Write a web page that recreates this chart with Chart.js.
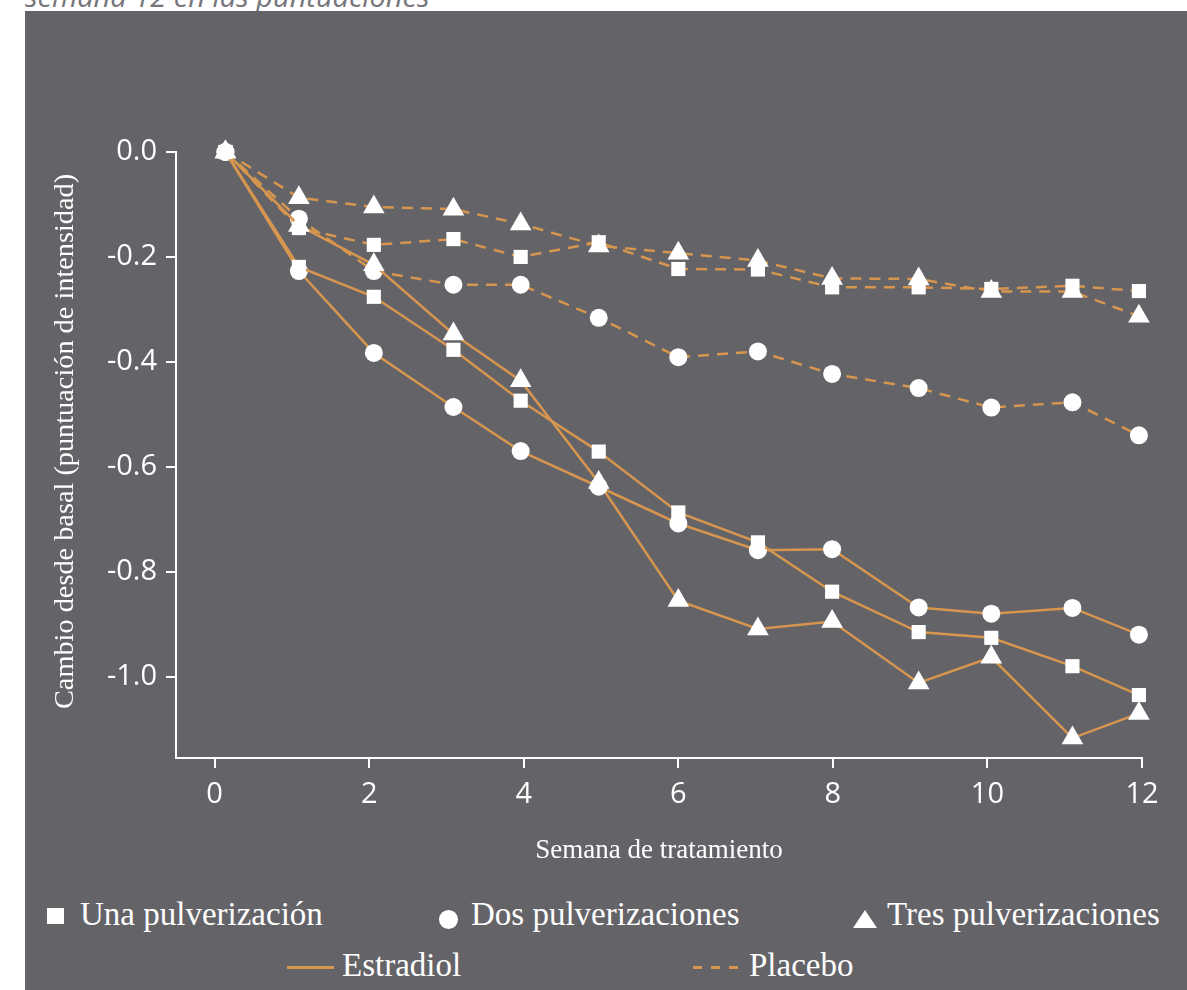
<!DOCTYPE html>
<html>
<head>
<meta charset="utf-8">
<title>Cambio desde basal</title>
<script src="https://cdn.jsdelivr.net/npm/chart.js@4.4.1/dist/chart.umd.min.js"></script>
<style>
    html, body { margin: 0; padding: 0; background: #ffffff; }
    body { width: 1187px; height: 990px; position: relative; overflow: hidden; font-family: "Liberation Serif", serif; }
    #caption { position: absolute; left: 25px; top: -19px; font: italic 29px/29px "Open Sans", sans-serif; color: #77767b; white-space: nowrap; }
    #panel { position: absolute; left: 25px; top: 11px; width: 1162px; height: 979px; background: #646368; }
    #chartBox { position: absolute; left: 25px; top: 11px; width: 1162px; height: 870px; }
    #ytitle { position: absolute; left: 50px; top: 709px; font-size: 28.3px; line-height: 28px; color: #ffffff; white-space: nowrap; transform-origin: 0 0; transform: rotate(-90deg); }
    .leg { position: absolute; color: #ffffff; font-size: 33px; line-height: 33px; white-space: nowrap; }
    .mk { position: absolute; }
    .sq { width: 17px; height: 16px; background: #ffffff; }
    .ci { width: 19px; height: 19px; border-radius: 50%; background: #ffffff; }
    .tr { width: 0; height: 0; border-left: 12.5px solid transparent; border-right: 12.5px solid transparent; border-bottom: 18px solid #ffffff; }
    .ln { height: 2.5px; background: #d6964f; }
    .dl { height: 3px; background: repeating-linear-gradient(90deg, #d6964f 0 9px, transparent 9px 18px); }
</style>
</head>
<body>
<div id="caption">semana 12 en las puntuaciones</div>
<div id="panel"></div>
<div id="chartBox"><canvas id="resultChart"></canvas></div>
<div id="ytitle">Cambio desde basal (puntuación de intensidad)</div>

<div class="mk sq" style="left:47px;top:908px"></div>
<span class="leg" style="left:80px;top:898px">Una pulverización</span>
<div class="mk ci" style="left:439px;top:910px"></div>
<span class="leg" style="left:471px;top:898px">Dos pulverizaciones</span>
<div class="mk tr" style="left:853px;top:910px"></div>
<span class="leg" style="left:887px;top:898px">Tres pulverizaciones</span>

<div class="mk ln" style="left:287px;top:966px;width:47px"></div>
<span class="leg" style="left:342px;top:949px">Estradiol</span>
<div class="mk dl" style="left:693px;top:966px;width:47px"></div>
<span class="leg" style="left:749px;top:949px">Placebo</span>

<script>
// semanas (posicion de cada punto en el eje x)
var weeks = [0.14, 1.09, 2.06, 3.09, 3.96, 4.97, 6.0, 7.03, 7.99, 9.11, 10.05, 11.1, 11.96];
var xTicks = [0, 2, 4, 6, 8, 10, 12];
var yTicks = [0, -0.2, -0.4, -0.6, -0.8, -1.0];

var estradiolUna  = [0, -0.219, -0.276, -0.377, -0.474, -0.571, -0.687, -0.744, -0.838, -0.915, -0.926, -0.980, -1.035];
var estradiolDos  = [0, -0.227, -0.383, -0.486, -0.570, -0.638, -0.708, -0.759, -0.757, -0.868, -0.880, -0.869, -0.920];
var estradiolTres = [0, -0.140, -0.215, -0.347, -0.436, -0.630, -0.855, -0.909, -0.895, -1.012, -0.963, -1.117, -1.070];
var placeboUna    = [0, -0.145, -0.177, -0.166, -0.200, -0.172, -0.223, -0.224, -0.258, -0.258, -0.261, -0.255, -0.265];
var placeboDos    = [0, -0.127, -0.227, -0.253, -0.253, -0.316, -0.391, -0.380, -0.423, -0.450, -0.487, -0.477, -0.540];
var placeboTres   = [0, -0.087, -0.105, -0.109, -0.137, -0.179, -0.193, -0.207, -0.241, -0.242, -0.266, -0.266, -0.313];

var lineColor = '#d6964f';
var tickFont = {family: "'Open Sans', sans-serif", size: 29};

function serie(label, values, style, radius, dashed) {
    return {
        label: label,
        data: weeks.map(function (w, i) { return {x: w, y: values[i]}; }),
        borderColor: lineColor,
        borderWidth: 2.5,
        borderDash: dashed ? [11, 8] : [],
        pointStyle: style,
        pointRadius: radius,
        pointHoverRadius: radius,
        pointBackgroundColor: '#ffffff',
        pointBorderColor: '#ffffff',
        pointBorderWidth: 0,
        fill: false,
        tension: 0,
        clip: false
    };
}

var ctx = document.getElementById('resultChart');
var resultChart = new Chart(ctx, {
    type: 'line',
    data: {
        datasets: [
            serie('Una pulverización - Estradiol', estradiolUna, 'rect', 10, false),
            serie('Dos pulverizaciones - Estradiol', estradiolDos, 'circle', 9, false),
            serie('Tres pulverizaciones - Estradiol', estradiolTres, 'triangle', 12.5, false),
            serie('Una pulverización - Placebo', placeboUna, 'rect', 10, true),
            serie('Dos pulverizaciones - Placebo', placeboDos, 'circle', 9, true),
            serie('Tres pulverizaciones - Placebo', placeboTres, 'triangle', 12.5, true)
        ]
    },
    options: {
        responsive: true,
        maintainAspectRatio: false,
        devicePixelRatio: 1,
        animation: false,
        layout: {padding: {top: 141, right: 45, bottom: 0, left: 0}},
        plugins: {
            legend: {display: false},
            tooltip: {enabled: false}
        },
        scales: {
            x: {
                type: 'linear',
                min: -0.5,
                max: 12,
                afterBuildTicks: function (axis) {
                    axis.ticks = xTicks.map(function (v) { return {value: v}; });
                },
                afterFit: function (axis) { axis.height = 123; },
                ticks: {
                    color: '#ffffff',
                    font: tickFont,
                    padding: 9,
                    maxRotation: 0,
                    autoSkip: false,
                    callback: function (v) { return String(v); }
                },
                grid: {drawOnChartArea: false, drawTicks: true, tickLength: 10, color: '#ffffff', lineWidth: 2},
                border: {display: true, color: '#ffffff', width: 2},
                title: {
                    display: true,
                    text: 'Semana de tratamiento',
                    color: '#ffffff',
                    font: {family: "'Liberation Serif', serif", size: 27},
                    padding: {top: 0, bottom: 14}
                }
            },
            y: {
                type: 'linear',
                min: -1.155,
                max: 0,
                afterBuildTicks: function (axis) {
                    axis.ticks = yTicks.map(function (v) { return {value: v}; });
                },
                afterFit: function (axis) { axis.width = 151; },
                ticks: {
                    color: '#ffffff',
                    font: tickFont,
                    padding: 9,
                    autoSkip: false,
                    callback: function (v) { return Math.abs(v) < 1e-9 ? '0.0' : v.toFixed(1); }
                },
                grid: {drawOnChartArea: false, drawTicks: true, tickLength: 10, color: '#ffffff', lineWidth: 2},
                border: {display: true, color: '#ffffff', width: 2}
            }
        }
    }
});
</script>
</body>
</html>
